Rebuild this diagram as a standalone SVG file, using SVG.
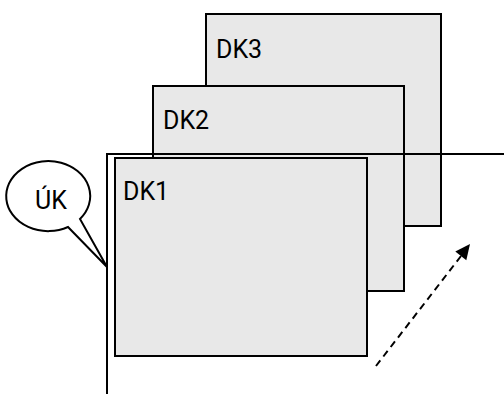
<svg xmlns="http://www.w3.org/2000/svg" width="504" height="394" viewBox="0 0 504 394">
<style>
.dk{fill:#e8e8e8;stroke:#000;stroke-width:2}
.t{font-family:Roboto,"Liberation Sans",sans-serif;font-size:25px;fill:#000}
.ln{fill:none;stroke:#000;stroke-width:2}
</style>
<rect width="504" height="394" fill="#fff"/>
<g id="dk3"><rect class="dk" x="206" y="14" width="235" height="212"/><text class="t" x="216" y="58">DK3</text></g>
<g id="dk2"><rect class="dk" x="153" y="86" width="251" height="205"/><text class="t" x="163" y="129">DK2</text></g>
<g id="axes"><path class="ln" d="M107,394 V154 H504"/></g>
<g id="dk1"><rect class="dk" x="115" y="158" width="252" height="198"/><text class="t" x="123" y="200">DK1</text></g>
<g id="uk"><path class="ln" d="M80,219 A42,35 0 1 0 68,227 L107,267 Z" fill="#fff"/><text class="t" x="35" y="209">ÚK</text></g>
<g id="connectors"><line x1="376" y1="366" x2="461" y2="256" stroke="#000" stroke-width="2" stroke-dasharray="7,5"/>
<path d="M470,244 L466.3,260.2 L455.3,251.6 Z" fill="#000"/></g>
</svg>
